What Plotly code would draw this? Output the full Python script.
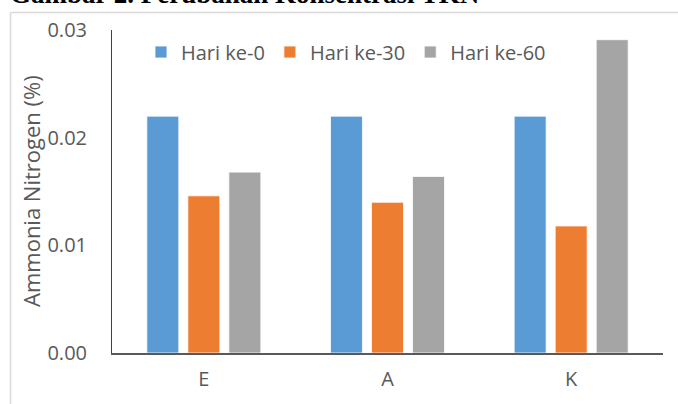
import plotly.graph_objects as go

categories = ["E", "A", "K"]
series_names = ["Hari ke-0", "Hari ke-30", "Hari ke-60"]
hari_0 = [0.0220, 0.0220, 0.0220]
hari_30 = [0.0146, 0.0140, 0.0118]
hari_60 = [0.0168, 0.0164, 0.0291]
y_ticks = [0.00, 0.01, 0.02, 0.03]
y_tick_labels = ["0.00", "0.01", "0.02", "0.03"]

colors = ["#5B9BD5", "#ED7D31", "#A5A5A5"]
W, H = 678, 404
L, R, T, B = 112, 15, 30, 51
pw, ph = W - L - R, H - T - B

def px_x(px):
    return (px - L) / pw

def px_y(py):
    return (H - B - py) / ph

fig = go.Figure()
for name, vals, c in zip(series_names, [hari_0, hari_30, hari_60], colors):
    fig.add_trace(go.Bar(
        x=categories, y=vals, name=name,
        marker=dict(color=c, line=dict(color="white", width=0.8)),
    ))

text_color = "#595959"
font_family = "Open Sans"
border = dict(color="#D9D9D9", width=1.5)

fig.update_layout(
    width=W, height=H,
    margin=dict(l=L, r=R, t=T, b=B, pad=0),
    paper_bgcolor="white", plot_bgcolor="white",
    barmode="group", bargap=0.33, bargroupgap=0.22,
    font=dict(family=font_family, size=20, color=text_color),
    showlegend=True,
    legend=dict(
        orientation="h", x=px_x(141), y=px_y(52), xanchor="left", yanchor="middle",
        font=dict(family=font_family, size=20, color=text_color),
        bgcolor="rgba(0,0,0,0)", itemclick=False,
    ),
    xaxis=dict(
        automargin=False,
        showline=True, linecolor="#595959", linewidth=1.5,
        showgrid=False, ticks="", ticklabelstandoff=7,
        tickfont=dict(family=font_family, size=20, color=text_color),
    ),
    yaxis=dict(
        automargin=False,
        range=[0, 0.03], tickvals=y_ticks, ticktext=y_tick_labels,
        showline=True, linecolor="#404040", linewidth=1,
        showgrid=False, zeroline=False, ticks="", ticklabelstandoff=20,
        tickfont=dict(family=font_family, size=20, color=text_color),
    ),
    shapes=[
        dict(type="line", xref="paper", yref="paper",
             x0=px_x(10.5), x1=px_x(10.5), y0=px_y(420), y1=px_y(12.5),
             line=border, layer="above"),
        dict(type="line", xref="paper", yref="paper",
             x0=px_x(10.5), x1=px_x(700), y0=px_y(12.5), y1=px_y(12.5),
             line=border, layer="above"),
    ],
    annotations=[
        dict(
            text="Ammonia Nitrogen (%)", textangle=-90,
            xref="paper", yref="paper", x=px_x(31), y=px_y(191),
            xanchor="center", yanchor="middle", showarrow=False,
            font=dict(family=font_family, size=22, color=text_color),
        ),
        dict(
            text="<b>Gambar 2. Perubahan Konsentrasi TKN</b>",
            xref="paper", yref="paper", x=px_x(8), y=px_y(11),
            xanchor="left", yanchor="bottom", showarrow=False,
            font=dict(family="Liberation Serif", size=27, color="black"),
        ),
    ],
)

fig.write_html("out.html", config={"displayModeBar": False},
               post_script="document.body.style.margin='0';")
